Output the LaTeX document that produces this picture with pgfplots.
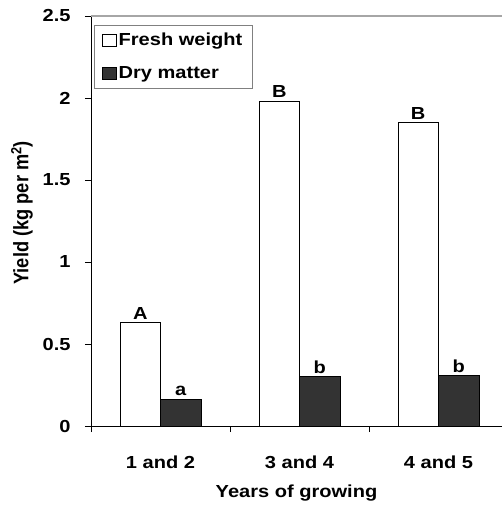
\documentclass[border=0pt]{standalone}
\usepackage{fontspec}
\setmainfont{Liberation Sans}[FakeStretch=1.15]
\newfontfamily\ylabfont{Liberation Sans}
\usepackage{graphicx}
\usepackage{pgfplots}
\pgfplotsset{compat=1.18}
\definecolor{darkbar}{HTML}{333333}
\newcommand{\chartfont}{\fontsize{17.5}{21}\selectfont\bfseries}
\begin{document}
\begin{tikzpicture}[font=\chartfont]
\begin{axis}[
 name=ax,
 scale only axis,
 width=411bp, height=410bp,
 xmin=-0.5, xmax=2.457,
 ymin=0, ymax=2.5,
 ytick={0,0.5,1,1.5,2,2.5},
 /pgf/number format/assume math mode=true,
 axis lines=left,
 axis line style={-, black},
 tick align=outside,
 major tick length=6bp,
 tick style={black},
 tick label style={font=\chartfont},
 label style={font=\chartfont},
 xtick={-0.5,0.5,1.5},
 xticklabels={},
 extra x ticks={0,1,2},
 extra x tick labels={1 and 2, 3 and 4, 4 and 5},
 extra x tick style={major tick length=0pt},
 xticklabel style={yshift=-26bp},
 yticklabel style={xshift=-11bp},
 ybar=0pt,
 bar width=40.5bp,
 ylabel={\scalebox{1}[1.15]{\ylabfont\fontsize{18.3}{21}\selectfont\bfseries Yield (kg per m\textsuperscript{2})}},
 ylabel style={at={(axis description cs:-0.168,0.52)}, anchor=center},
 xlabel={Years of growing},
 xlabel style={at={(axis description cs:0.5,-0.163)}, anchor=center},
 point meta=explicit symbolic,
 nodes near coords={\pgfplotspointmeta},
 nodes near coords style={anchor=south, inner sep=3bp, font=\chartfont},
 legend style={at={(0.007,0.978)}, anchor=north west, draw=gray, fill=white,
   font=\chartfont, inner xsep=8bp, inner ysep=6bp, row sep=15bp, cells={anchor=west}},
 legend image code/.code={\draw[#1,draw=black,line width=0.6bp] (0bp,-6bp) rectangle (14bp,6bp);},
]
\draw[gray!70, line width=1.2bp] (rel axis cs:0,1) -- (rel axis cs:1,1);
\addplot[draw=black, line width=0.8bp, fill=white] coordinates {(0,0.63) [A] (1,1.98) [B] (2,1.85) [B]};
\addlegendentry{Fresh weight}
\addplot[draw=black, line width=0.8bp, fill=darkbar] coordinates {(0,0.163) [a] (1,0.30) [b] (2,0.307) [b]};
\addlegendentry{Dry matter}
\end{axis}
\pgfresetboundingbox
\useasboundingbox ([shift={(-91bp,-79bp)}]ax.south west) rectangle ([shift={(0bp,16bp)}]ax.north east);
\end{tikzpicture}
\end{document}
